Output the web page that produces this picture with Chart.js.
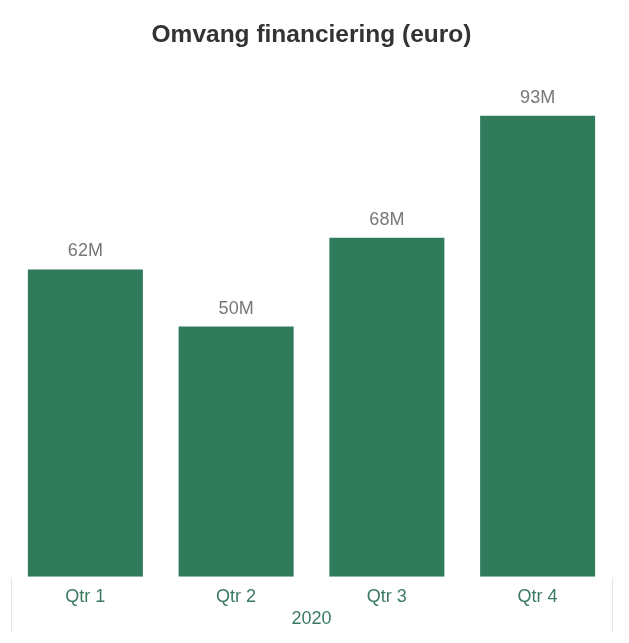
<!DOCTYPE html>
<html>
<head>
<meta charset="utf-8">
<script src="https://cdn.jsdelivr.net/npm/chart.js@4"></script>
<style>
  html, body { margin: 0; padding: 0; background: #fff; }
  #wrap { width: 629px; height: 643px; }
</style>
</head>
<body>
<div id="wrap"><canvas id="financeChart"></canvas></div>
<script>
const quarters = ['Qtr 1', 'Qtr 2', 'Qtr 3', 'Qtr 4'];
// millions of euro (labels show rounded values)
const amounts = [61.9, 50.4, 68.3, 92.9];
const yearLabel = '2020';

const barColor = '#317B5D';
const tickColor = '#3B7A60';
const fontFamily = '"Liberation Sans", Arial, sans-serif';

// draws "62M" etc above each bar
const valueLabels = {
  id: 'valueLabels',
  afterDatasetsDraw(chart) {
    const ctx = chart.ctx;
    const meta = chart.getDatasetMeta(0);
    ctx.save();
    ctx.font = '18px ' + fontFamily;
    ctx.fillStyle = '#777777';
    ctx.textAlign = 'center';
    ctx.textBaseline = 'bottom';
    meta.data.forEach((bar, i) => {
      ctx.fillText(Math.round(amounts[i]) + 'M', bar.x, bar.y - 9);
    });
    ctx.restore();
  }
};

// faint borders of the year group under the axis
const groupBorders = {
  id: 'groupBorders',
  afterDraw(chart) {
    const { ctx, chartArea } = chart;
    ctx.save();
    ctx.strokeStyle = '#e6e6e6';
    ctx.lineWidth = 1;
    [chartArea.left + 1.5, chartArea.right - 0.5].forEach(x => {
      ctx.beginPath();
      ctx.moveTo(x, chartArea.bottom + 1);
      ctx.lineTo(x, chartArea.bottom + 55);
      ctx.stroke();
    });
    ctx.restore();
  }
};

new Chart(document.getElementById('financeChart'), {
  type: 'bar',
  data: {
    labels: quarters,
    datasets: [{
      data: amounts,
      backgroundColor: barColor,
      barPercentage: 0.763,
      categoryPercentage: 1
    }]
  },
  options: {
    responsive: true,
    maintainAspectRatio: false,
    animation: false,
    layout: { padding: { left: 10, right: 16, top: 0, bottom: 13 } },
    plugins: {
      legend: { display: false },
      tooltip: { enabled: false },
      title: {
        display: true,
        text: 'Omvang financiering (euro)',
        color: '#333333',
        font: { family: fontFamily, size: 24.5, weight: 'bold' },
        padding: { top: 21, bottom: 30 }
      }
    },
    scales: {
      x: {
        grid: { display: false },
        border: { display: false },
        ticks: {
          color: tickColor,
          padding: 1,
          font: { family: fontFamily, size: 18 }
        },
        title: {
          display: true,
          text: yearLabel,
          color: tickColor,
          padding: { top: 0, bottom: 0 },
          font: { family: fontFamily, size: 18 }
        }
      },
      y: {
        display: false,
        min: 0,
        max: 100
      }
    }
  },
  plugins: [valueLabels, groupBorders]
});
</script>
</body>
</html>
